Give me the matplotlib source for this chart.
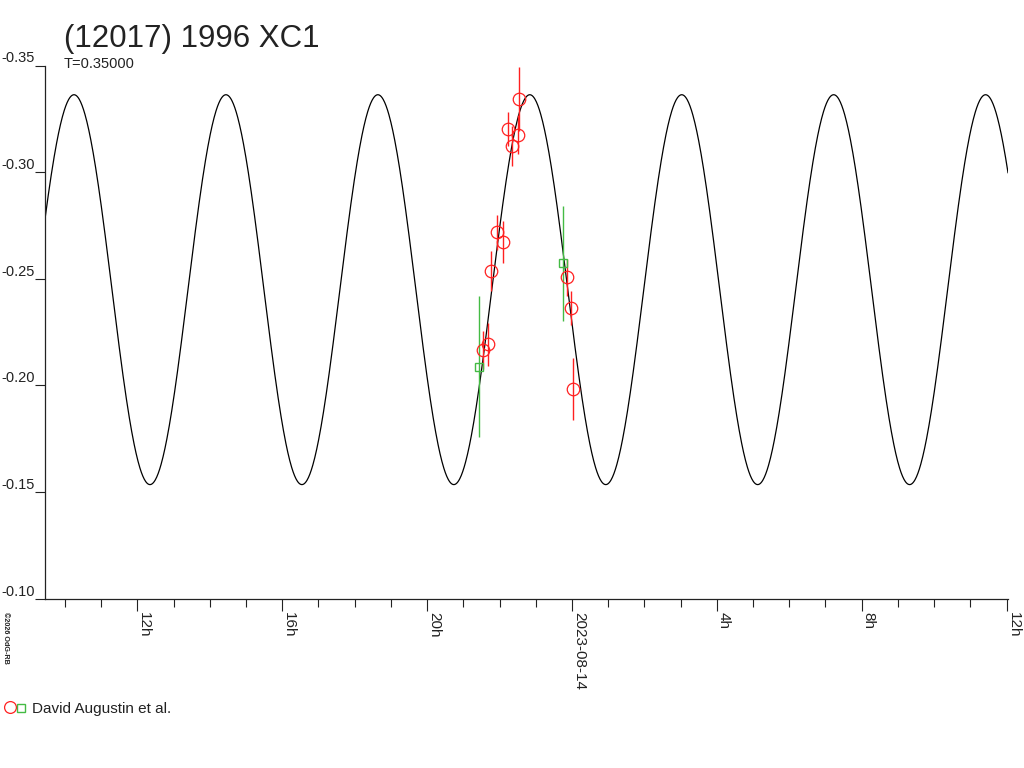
import numpy as np
import matplotlib
matplotlib.use("Agg")
import matplotlib.pyplot as plt
from matplotlib.lines import Line2D

plt.rcParams['font.family'] = ['Liberation Sans', 'DejaVu Sans']

# ---- data (hours relative to 2023-08-14 00:00 UT, reduced magnitude) ----
title = "(12017) 1996 XC1"
subtitle = "T=0.35000"
observer = "David Augustin et al."

red_hours = [-2.449, -2.311, -2.245, -2.079, -1.913, -1.759, -1.657, -1.499, -1.455,
             -0.130, -0.036, 0.036]
red_mag = [-0.2167, -0.2193, -0.2538, -0.2717, -0.2674, -0.3203, -0.3123, -0.3176, -0.3344,
           -0.2507, -0.2365, -0.1982]
red_err = [0.009, 0.010, 0.0094, 0.008, 0.0098, 0.008, 0.0093, 0.009, 0.015,
           0.0088, 0.008, 0.0146]

green_hours = [-2.568, -0.257]
green_mag = [-0.2088, -0.2573]
green_err = [0.033, 0.027]

# fitted lightcurve model parameters
fit_period_h = 4.195
fit_epoch_h = -1.164
fit_mean = -0.2449
fit_amp = 0.0914

x_range = [-14.55, 12.04]
y_ticks = [-0.35, -0.30, -0.25, -0.20, -0.15, -0.10]
y_tick_labels = ["-0.35", "-0.30", "-0.25", "-0.20", "-0.15", "-0.10"]
x_major = [-12, -8, -4, 0, 4, 8, 12]
x_major_labels = ["12h", "16h", "20h", "2023-08-14", "4h", "8h", "12h"]

RED = '#ff2020'
GREEN = '#44bb44'
INK = '#222222'

# ---- figure ----
W, H = 1024, 768
fig = plt.figure(figsize=(W / 100, H / 100), dpi=100)
ax = fig.add_axes([45 / W, 1 - 598.7 / H, (1008 - 45) / W, (598.7 - 65.5) / H])

t = np.linspace(x_range[0], x_range[1], 2000)
model = fit_mean - fit_amp * np.cos(2 * np.pi * (t - fit_epoch_h) / fit_period_h)
ax.plot(t, model, color='black', lw=0.9, zorder=2)

ax.errorbar(green_hours, green_mag, yerr=green_err, fmt='s', ms=6, mfc='none',
            mec=GREEN, mew=1.0, ecolor=GREEN, elinewidth=1.0, capsize=0, zorder=3)
ax.errorbar(red_hours, red_mag, yerr=red_err, fmt='o', ms=9, mfc='none',
            mec=RED, mew=0.9, ecolor=RED, elinewidth=1.0, capsize=0, zorder=3)

ax.set_xlim(x_range)
ax.set_ylim(-0.10, -0.35)

for s in ['top', 'right']:
    ax.spines[s].set_visible(False)
for s in ['left', 'bottom']:
    ax.spines[s].set_linewidth(0.9)
    ax.spines[s].set_color(INK)

ax.set_yticks(y_ticks)
ax.set_yticklabels(y_tick_labels, fontsize=10.5, va='bottom', color=INK)
ax.tick_params(axis='y', length=7.2, width=0.8, pad=0, direction='out', colors=INK)

ax.set_xticks(x_major)
ax.set_xticklabels(x_major_labels, fontsize=11, rotation=270, ha='left', va='top',
                   color=INK)
ax.set_xticks(np.arange(-14, 13, 1), minor=True)
ax.tick_params(axis='x', which='major', length=8.6, width=0.8, pad=1, colors=INK)
ax.tick_params(axis='x', which='minor', length=6.0, width=0.8, colors=INK)
for lbl in ax.get_xticklabels():
    lbl.set_horizontalalignment('left')

fig.text(64 / W, 1 - 47 / H, title, fontsize=22.5, color=INK, va='baseline', ha='left')
fig.text(64 / W, 1 - 68.3 / H, subtitle, fontsize=10.5, color=INK, va='baseline', ha='left')
fig.text(2 / W, 1 - 612 / H, "\u00a92026 OdG-RB", fontsize=5.2, fontweight='bold',
         rotation=270, ha='left', va='top', color=INK)

# legend
fig.add_artist(Line2D([9.5 / W], [1 - 707 / H], marker='o', ms=8.5, mfc='none', mec=RED,
                      mew=0.9, transform=fig.transFigure))
fig.add_artist(Line2D([20.5 / W], [1 - 707.5 / H], marker='s', ms=5.5, mfc='none', mec=GREEN,
                      mew=1.0, transform=fig.transFigure))
fig.text(32 / W, 1 - 713 / H, observer, fontsize=11, color=INK, va='baseline', ha='left')

fig.savefig("out.png", dpi=100)
